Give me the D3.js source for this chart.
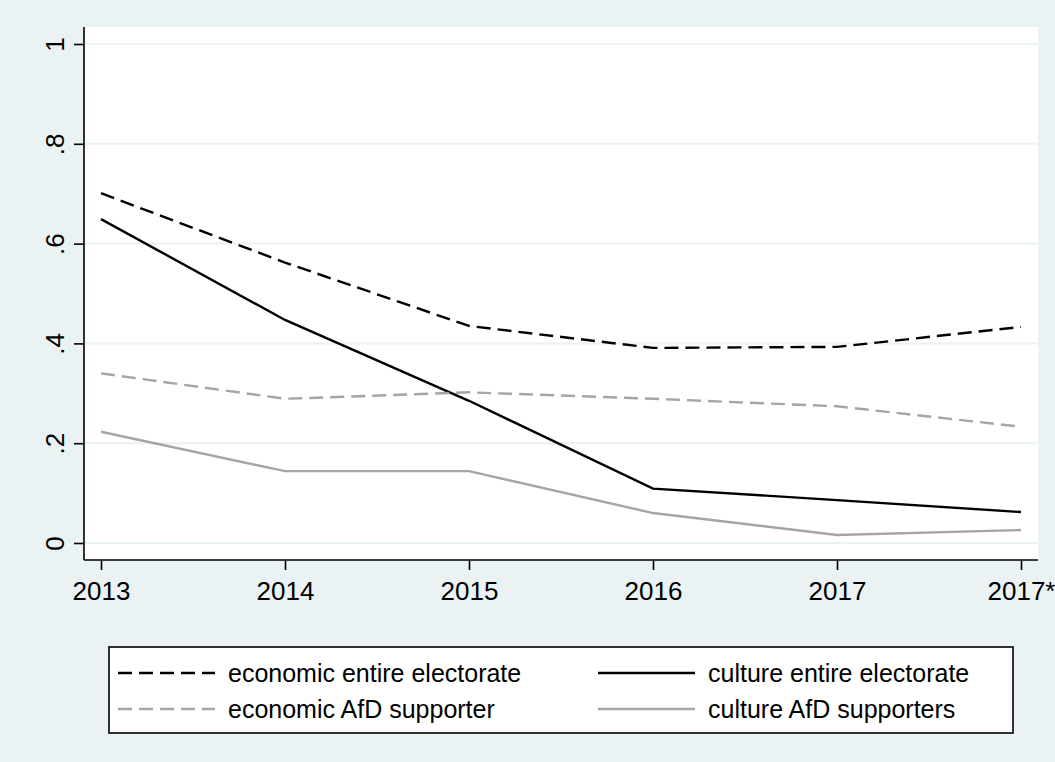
<!DOCTYPE html>
<html>
<head>
<meta charset="utf-8">
<script src="https://cdn.jsdelivr.net/npm/d3@7"></script>
<style>
  html, body { margin: 0; padding: 0; background: #EAF2F3; }
  svg { display: block; }
  text { font-family: "Liberation Sans", Arial, sans-serif; fill: #000; }
</style>
</head>
<body>
<svg id="chart" width="1055" height="762"></svg>
<script>
const categories = ["2013", "2014", "2015", "2016", "2017", "2017*"];
const yTicks = [0, 0.2, 0.4, 0.6, 0.8, 1];
const yTickLabels = ["0", ".2", ".4", ".6", ".8", "1"];

const economicEntire = [0.701, 0.562, 0.435, 0.391, 0.393, 0.433];
const cultureEntire  = [0.649, 0.447, 0.285, 0.109, 0.086, 0.062];
const economicAfD    = [0.340, 0.289, 0.302, 0.289, 0.274, 0.233];
const cultureAfD     = [0.223, 0.144, 0.144, 0.060, 0.016, 0.026];

const seriesNames = ["economic entire electorate", "culture entire electorate",
                     "economic AfD supporter", "culture AfD supporters"];

const series = [
  { name: seriesNames[0], values: economicEntire, color: "#000000", dash: "14,7" },
  { name: seriesNames[1], values: cultureEntire,  color: "#000000", dash: null },
  { name: seriesNames[2], values: economicAfD,    color: "#A5A5A5", dash: "14,7" },
  { name: seriesNames[3], values: cultureAfD,     color: "#A5A5A5", dash: null }
];

const svg = d3.select("#chart");
const W = 1055, H = 762;
svg.append("rect").attr("width", W).attr("height", H).attr("fill", "#EAF2F3");

const plot = { left: 84, right: 1038, top: 27, bottom: 560 };
svg.append("rect")
  .attr("x", plot.left).attr("y", plot.top)
  .attr("width", plot.right - plot.left).attr("height", plot.bottom - plot.top)
  .attr("fill", "#ffffff");

const x = d3.scalePoint().domain(categories).range([plot.left + 17, plot.right - 17]);
const y = d3.scaleLinear().domain([0, 1]).range([543, 44]);

// gridlines
svg.append("g").selectAll("line").data(yTicks).join("line")
  .attr("x1", plot.left).attr("x2", plot.right)
  .attr("y1", d => y(d)).attr("y2", d => y(d))
  .attr("stroke", "#EAF2F3").attr("stroke-width", 2);

// lines
const line = d3.line().x((d, i) => x(categories[i])).y(d => y(d));
svg.append("g").selectAll("path").data(series).join("path")
  .attr("d", d => line(d.values))
  .attr("fill", "none")
  .attr("stroke", d => d.color)
  .attr("stroke-width", 2.4)
  .attr("stroke-dasharray", d => d.dash);

// y axis
const yAxis = d3.axisLeft(y).tickValues(yTicks).tickSize(10).tickSizeOuter(0)
  .tickFormat((d, i) => yTickLabels[i]);
const gy = svg.append("g").attr("transform", `translate(${plot.left},0)`).call(yAxis);
gy.select(".domain").remove();
gy.selectAll(".tick line").attr("stroke", "#000").attr("stroke-width", 1.6);
gy.selectAll(".tick text")
  .attr("x", 0).attr("y", 0).attr("dy", null)
  .attr("transform", "translate(-20,0) rotate(-90)")
  .attr("text-anchor", "middle")
  .style("font-size", "26px")
  .style("font-family", "Liberation Sans, Arial, sans-serif");
svg.append("line")
  .attr("x1", plot.left).attr("x2", plot.left)
  .attr("y1", plot.top).attr("y2", plot.bottom)
  .attr("stroke", "#000").attr("stroke-width", 1.6);

// x axis
const xAxis = d3.axisBottom(x).tickSize(10).tickSizeOuter(0);
const gx = svg.append("g").attr("transform", `translate(0,${plot.bottom})`).call(xAxis);
gx.select(".domain").remove();
gx.selectAll(".tick line").attr("stroke", "#000").attr("stroke-width", 1.6);
gx.selectAll(".tick text")
  .attr("y", 40).attr("dy", null)
  .style("font-size", "26px")
  .style("font-family", "Liberation Sans, Arial, sans-serif");
svg.append("line")
  .attr("x1", plot.left).attr("x2", plot.right)
  .attr("y1", plot.bottom).attr("y2", plot.bottom)
  .attr("stroke", "#000").attr("stroke-width", 1.6);

// legend
const lg = svg.append("g");
lg.append("rect")
  .attr("x", 109).attr("y", 647).attr("width", 904).attr("height", 86)
  .attr("fill", "#fff").attr("stroke", "#000").attr("stroke-width", 1.6);
const colX = [118, 598];
const rowY = [673, 709];
series.forEach((s, i) => {
  const cx = colX[i % 2], cy = rowY[Math.floor(i / 2)];
  lg.append("line")
    .attr("x1", cx).attr("x2", cx + 97)
    .attr("y1", cy).attr("y2", cy)
    .attr("stroke", s.color).attr("stroke-width", 2.4)
    .attr("stroke-dasharray", s.dash);
  lg.append("text")
    .attr("x", cx + 110).attr("y", cy + 9)
    .style("font-size", "25px")
    .text(s.name);
});
</script>
</body>
</html>
